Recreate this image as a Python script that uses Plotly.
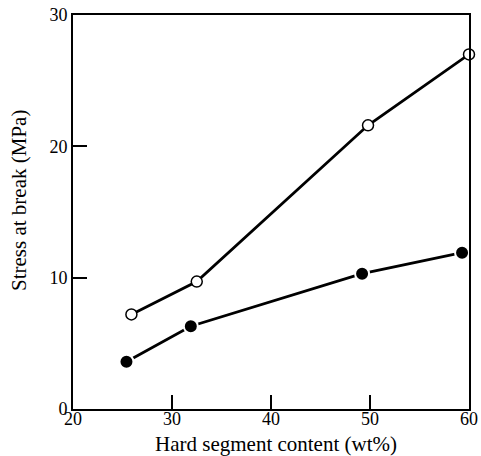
import plotly.graph_objects as go

# hard segment content (wt%) and stress at break (MPa)
open_x = [25.9, 32.5, 49.8, 60.0]
open_y = [7.2, 9.7, 21.6, 27.0]

filled_x = [25.4, 31.9, 49.2, 59.3]
filled_y = [3.6, 6.3, 10.3, 11.9]

x_ticks = [20, 30, 40, 50, 60]
y_ticks = [0, 10, 20, 30]

font_family = "Liberation Serif"

fig = go.Figure()

fig.add_trace(go.Scatter(
    x=open_x, y=open_y, mode="lines+markers",
    line=dict(color="black", width=2.8),
    marker=dict(symbol="circle", size=11, color="white",
                line=dict(color="black", width=1.5)),
    cliponaxis=False, showlegend=False))

fig.add_trace(go.Scatter(
    x=filled_x, y=filled_y, mode="lines+markers",
    line=dict(color="black", width=2.8),
    marker=dict(symbol="circle", size=14, color="black",
                line=dict(color="white", width=2)),
    cliponaxis=False, showlegend=False))

axis_common = dict(
    showline=True, linecolor="black", linewidth=1.8, mirror=True,
    ticks="inside", ticklen=14, tickwidth=2.2, tickcolor="black",
    showgrid=False, zeroline=False, automargin=False,
    ticklabeloverflow="allow",
    tickfont=dict(family=font_family, size=18, color="black"),
)

fig.update_xaxes(range=[20, 60], tickmode="array", tickvals=x_ticks,
                 ticklabelstandoff=-8, **axis_common)
fig.update_yaxes(range=[0, 30], tickmode="array", tickvals=y_ticks, **axis_common)

# axis titles as annotations so their place is fixed
title_font = dict(family=font_family, size=21, color="black")
fig.add_annotation(text="Hard segment content (wt%)", xref="paper", yref="paper",
                   x=0.513, y=0, yshift=-35, xanchor="center", yanchor="middle",
                   showarrow=False, font=title_font)
fig.add_annotation(text="Stress at break (MPa)", xref="paper", yref="paper",
                   x=0, y=0.528, xshift=-54, xanchor="center", yanchor="middle",
                   textangle=-90, showarrow=False, font=title_font)

fig.update_layout(
    template="simple_white",
    width=481, height=456,
    margin=dict(l=73, r=12, t=15, b=47),
    paper_bgcolor="white", plot_bgcolor="white",
    font=dict(family=font_family, color="black"),
)

# drop the page's default body margin so the figure fills the window
fig.write_html("out.html", config={"displayModeBar": False},
               post_script="document.body.style.margin='0';")
